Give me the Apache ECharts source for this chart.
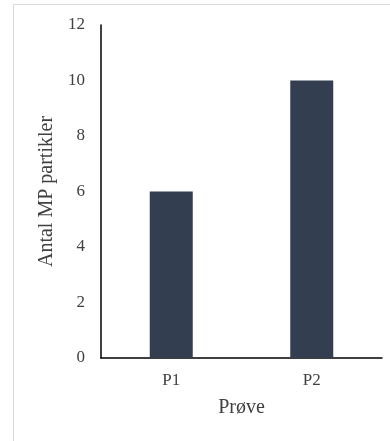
<!DOCTYPE html>
<html>
<head>
<meta charset="utf-8">
<script src="https://cdn.jsdelivr.net/npm/echarts@6/dist/echarts.min.js"></script>
<style>
html,body{margin:0;padding:0;background:#fff;}
#chart{width:390px;height:441px;}
</style>
</head>
<body>
<div id="chart"></div>
<script>
const categories = ['P1', 'P2'];
const values = [6, 10];
const yTicks = [0, 2, 4, 6, 8, 10, 12];

const chart = echarts.init(document.getElementById('chart'), null, {renderer: 'canvas'});
const font = '"Liberation Serif", "Times New Roman", serif';
chart.setOption({
  animation: false,
  backgroundColor: '#fff',
  graphic: [{
    type: 'rect',
    shape: {x: 13.5, y: 4.5, width: 420, height: 480},
    style: {fill: 'none', stroke: '#d9d9d9', lineWidth: 1},
    silent: true
  }],
  grid: {left: 101, top: 25, right: 8, bottom: 83, containLabel: false},
  xAxis: {
    type: 'category',
    data: categories,
    name: 'Prøve',
    nameLocation: 'middle',
    nameGap: 40,
    nameTextStyle: {fontFamily: font, fontSize: 20, color: '#404040'},
    axisLine: {lineStyle: {color: '#000', width: 1.5}},
    axisTick: {show: false},
    axisLabel: {fontFamily: font, fontSize: 17, color: '#404040', margin: 14}
  },
  yAxis: {
    type: 'value',
    min: yTicks[0],
    max: yTicks[yTicks.length - 1],
    interval: 2,
    name: 'Antal MP partikler',
    nameLocation: 'middle',
    nameGap: 41,
    nameTextStyle: {fontFamily: font, fontSize: 20, color: '#404040'},
    axisLine: {show: true, lineStyle: {color: '#000', width: 1.5}},
    axisTick: {show: false},
    splitLine: {show: false},
    axisLabel: {fontFamily: font, fontSize: 17, color: '#404040', margin: 16}
  },
  series: [{
    type: 'bar',
    data: values,
    barWidth: 43,
    itemStyle: {color: '#333f50'}
  }]
});
</script>
</body>
</html>
